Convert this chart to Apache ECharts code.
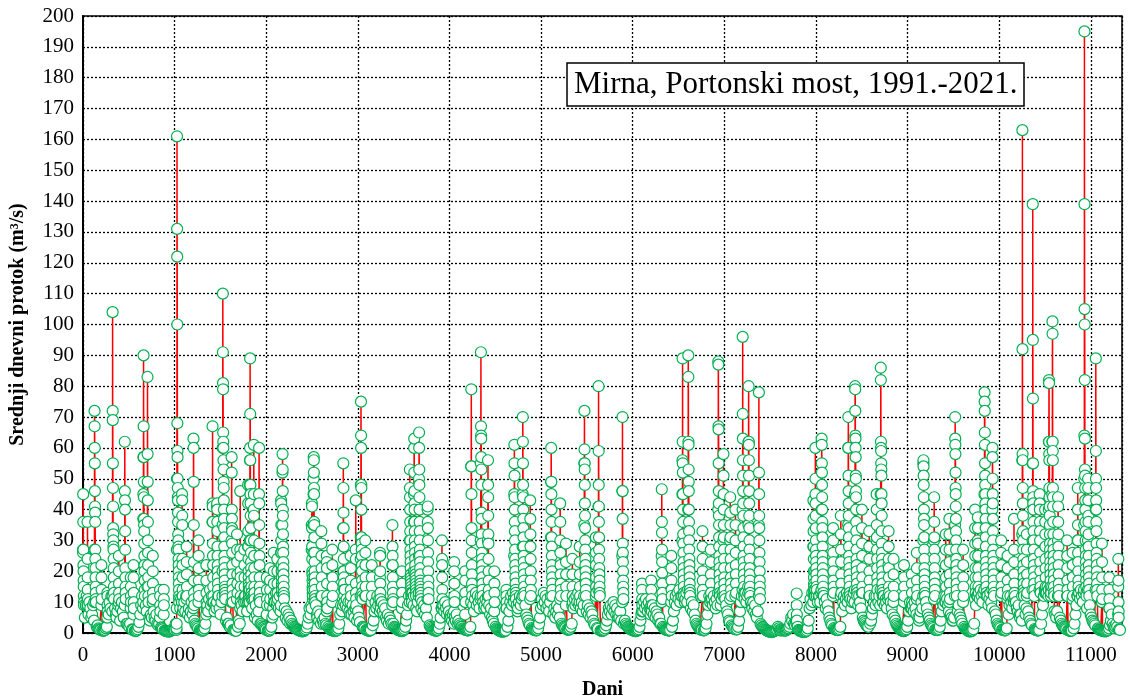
<!DOCTYPE html>
<html>
<head>
<meta charset="utf-8">
<script src="https://cdn.jsdelivr.net/npm/echarts@6/dist/echarts.min.js"></script>
<style>html,body{margin:0;padding:0;background:#fff;}#c{width:1130px;height:697px;}</style>
</head>
<body>
<div id="c"></div>
<script>
// ---- Axis ticks ----
const xTicks = [0,1000,2000,3000,4000,5000,6000,7000,8000,9000,10000,11000];
const yTicks = [0,10,20,30,40,50,60,70,80,90,100,110,120,130,140,150,160,170,180,190,200];

// ---- Baseline daily flow (m3/s), one row per year, one value per 10 days ----
const base1991_2000 = [
 [6,8,5,9,12,7,6,10,8,5,6,9,4,3,3,2,2.5,1.5,1.2,1,0.8,0.9,0.7,0.8,1,1.5,2,4,6,10,8,12,7,9,11,8,6],
 [5,7,9,6,4,8,10,7,5,4,6,3,3,2.5,2,3,1.8,1.2,1,0.8,0.7,0.6,0.8,1.2,2,3.5,6,9,12,8,10,14,9,7,8,6,5],
 [4,6,5,3,7,5,4,6,3,2.5,3,2,1.8,1.5,1.2,1,0.8,0.7,0.6,0.5,0.5,0.4,0.6,0.8,1,1.2,1,1,3,12,9,14,10,8,11,9,7],
 [8,10,7,12,9,6,8,5,7,10,6,4,4,3,2.5,2,1.5,1.2,1,0.9,0.8,0.7,1,1.5,3,6,9,7,11,14,9,12,8,10,7,9,8],
 [7,9,12,8,6,10,7,5,8,6,4,5,3,3,2,2.5,1.5,1.2,1,0.8,0.9,0.7,1,2,4,3,6,9,7,11,8,12,10,7,9,6,8],
 [9,6,8,11,7,5,9,6,4,7,5,3,3,2.5,2,1.8,1.4,1.1,0.9,0.8,0.7,0.8,1.2,2,5,8,6,10,13,9,11,8,12,7,10,8,6],
 [6,8,5,7,4,6,5,3,4,3,2.5,2,1.8,1.5,1.3,1.1,1,0.8,0.7,0.6,0.5,0.6,0.7,0.9,1.2,1.8,3,5,8,6,9,11,8,10,7,9,6],
 [5,7,4,6,3,5,4,3,5,3,2.5,2,2,1.5,1.2,1,0.9,0.8,0.7,0.6,0.7,0.8,1,1.5,3,6,9,7,12,10,14,9,11,8,10,7,6],
 [8,6,9,7,5,8,6,4,7,5,3.5,3,2.5,2,1.8,1.5,1.2,1,0.9,0.8,0.7,0.8,1,1.4,2.5,4,7,10,8,12,9,11,13,8,10,7,9],
 [6,8,5,4,6,3,5,4,3,2.5,3,2,1.8,1.5,1.2,1,0.9,0.8,0.7,0.6,0.7,0.9,1.3,2,4,6,9,12,10,14,11,13,9,12,10,8,7]
];
const base2001_2010 = [
 [10,12,9,11,8,10,7,9,6,8,5,4,3,2.5,2,1.6,1.3,1,0.9,0.8,0.7,0.8,1,1.5,3,5,8,6,9,7,10,8,6,9,7,5,6],
 [5,4,6,3,5,4,6,3,4,3,2.5,2,2,1.5,1.3,1.1,1,0.9,0.8,0.9,1.2,2,4,6,9,7,11,13,9,12,10,8,11,9,7,10,8],
 [9,11,8,10,7,9,6,8,5,4,3,2.5,2,1.5,1.2,1,0.8,0.6,0.5,0.4,0.4,0.5,0.6,0.8,1.2,2,4,7,10,12,9,13,11,8,10,9,7],
 [8,10,12,9,11,8,10,7,9,6,5,4,3,2.5,2,1.6,1.3,1.1,1,0.9,0.8,1,1.5,3,5,8,11,9,13,10,12,8,11,9,7,10,8],
 [7,9,6,8,5,7,9,6,8,5,4,3,2.5,2,1.8,1.5,1.3,1.2,1,1.1,1.4,2,3,5,8,11,9,12,10,13,9,11,8,10,7,9,6],
 [8,10,7,9,6,8,5,7,6,4,3,2.5,2,1.6,1.3,1.1,1,0.8,0.7,0.7,0.8,1,1.5,2.5,4,6,8,7,9,6,8,10,7,9,6,8,5],
 [6,5,7,4,6,5,3,4,3,2.5,2,1.8,1.5,1.3,1.1,1,0.9,0.7,0.6,0.6,0.7,0.9,1.2,2,4,6,9,7,10,8,11,9,7,10,8,6,7],
 [7,9,6,8,5,7,6,4,5,3,3,2.5,2,1.6,1.3,1.1,1,0.9,0.8,0.8,1,1.3,2,4,7,10,12,9,13,11,14,10,12,9,11,8,10],
 [11,13,10,12,9,11,8,10,7,9,6,4,3,2.5,2,1.6,1.3,1.1,1,0.9,0.8,1,1.5,3,6,9,12,10,13,11,9,12,10,8,11,9,12],
 [10,12,9,11,13,10,8,11,9,7,6,4,3.5,3,2.5,2,1.6,1.3,1.2,1.1,1.3,2,4,7,10,12,9,14,11,13,10,12,15,11,13,10,9]
];
const base2011_2021 = [
 [8,10,7,9,6,5,7,4,5,3,2.5,2,1.8,1.5,1.2,1,0.8,0.6,0.5,0.4,0.4,0.3,0.4,0.5,0.6,0.8,1,1.2,2,1.5,1,0.8,1.2,0.9,0.8,1,0.8],
 [0.8,1,1.2,1.5,2,3,5,4,6,3,2.5,4,3,2,1,0.8,0.6,0.5,0.4,0.4,0.3,0.4,0.5,0.8,1.5,4,8,11,9,13,10,12,9,11,14,10,12],
 [12,10,13,11,9,12,10,8,11,9,7,5,4,3,2.5,2,1.6,1.3,1.1,1,0.9,1,1.3,2,4,7,10,12,9,11,13,10,12,9,11,8,10],
 [11,13,10,12,14,11,9,12,10,8,7,5,4,3.5,3,2.5,2.2,2,2.5,3,4,6,8,10,12,9,11,13,10,12,9,11,13,10,12,9,11],
 [10,8,11,9,12,10,8,6,7,5,4,3,2.5,2,1.6,1.3,1,0.8,0.7,0.6,0.7,0.9,1.2,2,4,7,10,8,11,9,7,10,8,6,7,5,4],
 [5,7,10,8,11,9,12,10,8,6,5,4,3,2.5,2,1.6,1.3,1.1,1,0.9,1,1.3,2,4,7,10,9,12,10,13,11,9,7,8,6,5,4],
 [4,5,6,8,10,7,9,6,5,4,3,2.5,2,1.5,1.2,1,0.8,0.6,0.5,0.5,0.6,0.8,1.2,3,6,9,12,10,13,11,14,12,10,13,11,9,12],
 [10,12,9,11,13,10,8,11,9,7,6,4,3,2.5,2,1.6,1.3,1.1,1,0.9,0.8,1,1.5,3,6,9,12,10,8,11,9,12,10,8,7,9,6],
 [5,6,4,5,7,9,6,8,10,7,5,4,3,2.5,2,1.6,1.3,1,0.9,0.8,0.8,1,1.5,3,6,9,12,14,11,13,15,12,14,11,13,10,12],
 [9,7,6,5,7,4,6,5,4,3,2.5,2,1.8,1.5,1.2,1,0.9,0.8,0.7,0.7,0.8,1,1.5,3,6,9,12,10,13,11,14,12,10,13,11,9,10],
 [8,10,7,9,6,5,4,3.5,3,2.5,2,1.8,1.5,1.2,1,0.9,0.8,0.7,0.6,0.6,0.5,0.6,0.8,1,1.5,2.5,4,6,3,2,1.5,2,3,2,1.5,1.2,1]
];

// ---- Flood events: [first day, consecutive daily values] ----
const events1991_1995 = [
 [0,[27,26,45,36,27,22,20,17,15,12,10,9]],
 [48,[9,36,24,18,14,11,9]],
 [124,[10,27,72,67,60,55,46,41,39,36,27,24,21,18,15,13,11,10]],
 [200,[9,22,18,14,11]],
 [265,[5,13,12,9,7]],
 [322,[12,104,72,69,55,47,41,34,32,30,28,27,24,21,18,15,13,11]],
 [390,[10,25,20,16,13,11]],
 [455,[9,62,46,43,40,33,27,21,18,15,13,11]],
 [520,[8,18,15,12,10]],
 [550,[6,22,18,13,10,8]],
 [657,[10,37,45,57,90,67,57,49,44,37,35,33,29,25,22,20,17,14,12]],
 [703,[15,83,58,49,43,36,30,26,22,18,15,12,10]],
 [760,[10,25,20,16,13,11]],
 [840,[5,14,12,9,7]],
 [880,[6,14,11,9]],
 [1020,[1,1.5,3,8,27,50,161,131,122,100,68,59,57,50,47,44,43,39,36,32,30,28,27,24,22,20,18,16,14,12,11,10]],
 [1080,[10,45,43,38,35,24,22,18,14,12]],
 [1130,[11,28,23,19,15,12]],
 [1205,[8,63,60,49,35,23,17,13,11,9]],
 [1260,[10,30,25,21,17,14,12]],
 [1345,[6,22,17,13,10,8]],
 [1412,[10,36,67,42,41,36,29,25,22,18,15,12]],
 [1462,[10,41,42,40,36,33,28,25,22,20,18,16,14,12]],
 [1522,[12,20,35,60,110,91,81,79,65,62,60,56,53,49,47,43,40,37,34,31,28,25,23,21,19,17,15,14,13,12,11]],
 [1620,[10,30,57,52,40,37,34,33,29,26,22,19,16,14,12,10]],
 [1680,[11,32,27,23,19,16,13]],
 [1715,[8,46,27,25,20,18,15,12,10]],
 [1760,[10,27,22,18,15,12]],
 [1800,[10,28,48,42,33,28,24,20,18,16,15,14,13,12,12,11,11,10,10,14,30,48,56,60,89,71,56,48,45,42,38,34,30,26,23,21,19,17,15,13,12,11]]
];
const events1996_2002 = [
 [1862,[12,40,61,45,38,30,25,21,18,15,13,11]],
 [1920,[11,45,60,42,35,29,25,22,18,15,13,11,10]],
 [2005,[6,18,14,11,9]],
 [2040,[9,21,17,14,11]],
 [2080,[6,26,20,16,12,10]],
 [2120,[10,24,20,16,13]],
 [2160,[9,26,43,42,35,30,26,22,20,18,16,15,14,13,14,20,35,52,58,53,46,40,38,32,28,26,23,21,19,17,15,13,12,11]],
 [2495,[8,27,35,42,41,34,28,24,20,19,17,15,14,13,12,11,12,14,18,26,35,45,50,57,56,52,47,45,36,35,31,26,23,20,18,16,14,12,11,10]],
 [2600,[12,33,29,25,21,18,15,12]],
 [2660,[7,25,23,21,16,12,10,8]],
 [2720,[10,27,22,18,15,12]],
 [2838,[9,20,34,55,47,39,34,28,24,20,18,16,14,12,10]],
 [2920,[10,25,21,17,14,12]],
 [2975,[8,27,43,24,16,13,11,9]],
 [3030,[12,24,31,48,75,64,60,48,47,40,31,29,27,25,22,20,17,15,13,12,11]],
 [3080,[12,30,26,22,18,15,12]],
 [3150,[10,22,18,15,12]],
 [3240,[7,18,26,25,20,16,13,11,9]],
 [3375,[9,22,35,28,25,22,18,15,13,11,10]],
 [3480,[8,20,16,13,10]],
 [3565,[10,30,53,47,44,40,36,33,30,27,25,23,21,19,18,17,16,15,14,13,13,12,12,11,11,10]],
 [3610,[12,20,36,45,60,63,52,46,42,40,36,33,30,28,26,24,22,20,19,18,17,16,15,14,13,12]],
 [3665,[13,25,50,65,60,53,48,44,40,36,33,30,27,25,23,21,19,17,16,15,14,13,12,11]],
 [3760,[11,40,41,36,34,30,26,23,20,17,15,13,11]],
 [3917,[8,30,24,22,18,14,11,9]],
 [4050,[7,23,20,16,12,10]],
 [4170,[6,20,17,13,10]],
 [4236,[10,54,79,54,45,34,30,26,22,19,16,14,12]],
 [4340,[12,30,55,91,67,64,63,57,53,48,39,37,32,29,26,24,22,20,18,16,14,12]],
 [4418,[12,30,56,48,44,38,32,29,24,20,17,14,12]],
 [4488,[7,20,16,13,10]]
];
const events2003_2010 = [
 [4620,[8,14,12,10,8]],
 [4705,[10,25,45,61,55,51,44,40,36,33,30,27,24,22,20,18,16,14,13,12,11]],
 [4797,[12,28,45,70,62,55,48,44,40,37,34,31,28,25,23,21,19,17,15,13,12]],
 [4880,[11,43,37,32,28,24,20,17,14,12]],
 [5107,[12,31,49,60,49,45,40,36,31,28,25,22,20,18,16,14,12]],
 [5207,[11,42,36,30,26,22,19,16,14,12]],
 [5270,[9,29,23,19,15,12]],
 [5340,[9,24,19,15,12,10]],
 [5420,[10,28,23,19,15,12]],
 [5470,[12,35,55,72,59.5,55,53,48,42,38,34,30,27,24,22,20,18,16,14,12]],
 [5596,[12,31,26,22,18,15,13]],
 [5625,[14,41,80,59,48,41,36,31,27,24,21,19,17,15,13,12]],
 [5885,[10,25,46,70,46,37,29,26,23,20,17,15,13,11]],
 [6100,[7,16,14,11,9]],
 [6200,[8,17,14,11,9]],
 [6315,[10,25,46.6,36,32.5,27,23,19.5,16,13,11]],
 [6420,[10,25,21,17,14,12]],
 [6540,[12,30,45,56,89,62,55,52,45,40,36,32,29,26,23,21,19,17,15,13,12]],
 [6604,[14,40,90,83,62,61,53,49,46,40,36,33,30,27,24,22,20,18,16,14,13,12]],
 [6760,[12,33,28,24,20,17,14,12]],
 [6850,[11,27,23,19,16,13]],
 [6932,[13,40,88,87,67,66,55,46,42,38,35,31,28,25,23,21,19,17,15,13,12]],
 [6988,[12,30,58,51,45,40,35,31,27,24,21,18,16,14,12]],
 [7062,[11,30,44,39,35,31,27,24,21,18,16,14,12]],
 [7120,[12,40,35,30,26,22,19,16,13]],
 [7198,[14,40,96,71,63,56,51,46,42,38,34,31,28,25,23,21,19,17,15,13,12]],
 [7262,[13,35,62,80,62,61,56,51,46,42,38,34,30,27,24,21,19,17,15,13,12]],
 [7375,[12,35,78,52,45,38,34,30,26,23,20,17,15,13,11]]
];
const events2011_2016 = [
 [7788,[3,12.8,9,6,4]],
 [7970,[10,28,43,37,33,28,24,20,18,16,15,14,13,13,12,12,12,12,12,12,12,14,20,60,50,45,42,38,34,30,27,25,23,21,19,17,15,13,12]],
 [8060,[14,40,63,61,55,52,48,44,40,36,34,31,28,25,23,21,19,17,15,13,12]],
 [8185,[12,25,34,30,26,23,20,17,15,13]],
 [8270,[12,38,32,27,23,19,16,13]],
 [8350,[12,35,60,70,60,51,46,42,38,34,31,28,25,23,21,19,17,15,13,12]],
 [8425,[14,45,80,79,72,64,63,60,57,51,50,46,44,40,36,33,30,27,24,22,20,18,16,14,13,12]],
 [8500,[13,40,34,29,25,21,18,15,13]],
 [8580,[12,33,28,24,20,17,14,12]],
 [8660,[12,30,45,40,35,31,27,24,21,18,16,14]],
 [8705,[14,45,86,82,62,60,59,55,53,51,45,42,38,33,29,26,24,22,20,18,16,14,13,12]],
 [8790,[12,22,33,28,24,21,18,15,13]],
 [8845,[10,24,19,15,12]],
 [8960,[10,22,18,15,12]],
 [9045,[8,19,16,13,10]],
 [9100,[11,26,21,17,14,12]],
 [9170,[12,30,55,56,54,51,48,44,40,37,35,31,27,24,21,19,17,15,13,12]],
 [9288,[11,30,44,36,31,27,24,21,18,16,14,12]]
];
const events2017_2021 = [
 [9415,[10,32,27,22,18,15,12]],
 [9455,[10,37,32,27,23,19,16,13,11]],
 [9517,[12,35,70,63,61,58,52,47,45,41,37,33,30,27,24,22,20,18,16,14,12]],
 [9605,[10,27,22,18,15,12]],
 [9735,[11,40,34,29,25,21,18,15,13]],
 [9765,[12,30,37.5,34,29,25,21,18,15,13]],
 [9838,[14,45,78,75,72,65,61,55,51,48,45,42,40,37,34,31,28,25,23,21,19,17,15,13,12]],
 [9924,[14,40,60,57,50,45,42,37,33,30,27,25,23,21,19,17,15,13,12]],
 [10020,[12,30,26,22,18,15,13]],
 [10090,[11,25,21,17,14,12]],
 [10160,[10,37,27,23,19,16,13,11]],
 [10250,[12,32,56,163,92,58,56,47,42,38,33,30,27,24,22,20,18,16,14,13,12]],
 [10300,[12,32,27,23,19,16,13]],
 [10363,[14,30,55,139,95,76,55,46,44,42,40,36,33,30,27,24,22,20,18,16,14,12]],
 [10440,[14,45,42,40,36,33,30,26,23,20,17,15,13]],
 [10500,[13,40,36,32,28,24,21,18,15,13]],
 [10540,[14,40,62,82,81,62,58,56,47,44,41,38,35,32,29,27,25,23,21,19,17,15,13,12]],
 [10578,[15,45,62,101,97,62,59,56,47,44,41,36,32,29,27,25,23,21,19,17,15,13,12]],
 [10640,[12,30,44,41,36,32,28,25,22,19,16,14,12]],
 [10740,[12,30,25,21,17,14,12]],
 [10800,[11,26,22,18,15,12]],
 [10855,[12,30,47,40,35,30,26,23,20,17,15,13]],
 [10926,[14,35,50,64,195,139,105,100,82,63,53,51,47,43,40,36,33,30,27,25,23,21,19,17,15,13,12]],
 [10968,[14,30,50,47,43,38,36,32,28,25,22,20,18,16,14,12]],
 [11052,[14,40,89,59,50,47,43,40,36,33,29,26,24,22,20,18,16,14,12]],
 [11120,[10,29,23,18,14,11]],
 [11200,[8,18,14,11,8]],
 [11298,[6,15,24,17,10,7,5]]
];

const LAST_DAY = 11322;
const allBase = [].concat(base1991_2000, base2001_2010, base2011_2021);
const allEvents = [].concat(events1991_1995, events1996_2002, events2003_2010, events2011_2016, events2017_2021);
const windows = allEvents.map(function (e) { return [e[0], e[0] + e[1].length - 1]; });
const points = [];
allBase.forEach(function (row, yi) {
  const y0 = Math.round(365.25 * yi);
  row.forEach(function (v, k) {
    const d = y0 + 10 * k;
    if (d > LAST_DAY) return;
    for (let i = 0; i < windows.length; i++) {
      if (d >= windows[i][0] - 1 && d <= windows[i][1] + 1) return;
    }
    points.push([d, v]);
  });
});
allEvents.forEach(function (e) {
  e[1].forEach(function (v, k) { points.push([e[0] + k, v]); });
});
points.sort(function (a, b) { return a[0] - b[0]; });

const FONT = '"Liberation Serif", "Times New Roman", serif';
const chart = echarts.init(document.getElementById('c'), null, {renderer: 'canvas'});
chart.setOption({
  animation: false,
  backgroundColor: '#fff',
  title: {
    text: 'Mirna, Portonski most, 1991.-2021.',
    left: 567, top: 63,
    padding: [5, 7, 4, 7],
    borderColor: '#000', borderWidth: 1.5,
    backgroundColor: '#fff',
    textStyle: {fontFamily: FONT, fontSize: 31, fontWeight: 'normal', color: '#000', lineHeight: 34}
  },
  grid: {left: 83, right: 8, top: 16, bottom: 64, containLabel: false, outerBoundsMode: 'none',
    show: true, borderColor: '#000', borderWidth: 1.5, backgroundColor: 'transparent'},
  xAxis: {
    type: 'value', min: 0, max: 11340, interval: 1000,
    name: 'Dani', nameLocation: 'middle', nameGap: 47,
    nameTextStyle: {fontFamily: FONT, fontSize: 20, fontWeight: 'bold', color: '#000'},
    axisLine: {show: true, lineStyle: {color: '#000', width: 2}},
    axisTick: {show: false},
    axisLabel: {fontFamily: FONT, fontSize: 21, color: '#000', margin: 12, showMaxLabel: false,
      formatter: function (v) { return xTicks.indexOf(v) >= 0 ? String(v) : ''; }},
    splitLine: {show: true, lineStyle: {color: '#000', width: 1.3, type: [2, 2]}}
  },
  yAxis: {
    type: 'value', min: 0, max: 200, interval: 10,
    name: 'Srednji dnevni protok (m\u00B3/s)', nameLocation: 'middle', nameGap: 55,
    nameTextStyle: {fontFamily: FONT, fontSize: 20, fontWeight: 'bold', color: '#000'},
    axisLine: {show: true, lineStyle: {color: '#000', width: 2}},
    axisTick: {show: false},
    axisLabel: {fontFamily: FONT, fontSize: 21, color: '#000', margin: 9,
      formatter: function (v) { return yTicks.indexOf(v) >= 0 ? String(v) : ''; }},
    splitLine: {show: true, lineStyle: {color: '#000', width: 1.3, type: [2, 2]}}
  },
  series: [{
    type: 'line',
    data: points,
    showSymbol: true,
    showAllSymbol: true,
    symbol: 'circle',
    symbolSize: 11,
    lineStyle: {color: '#FF0000', width: 1.5},
    itemStyle: {color: '#fff', borderColor: '#00B050', borderWidth: 1.2},
    emphasis: {disabled: true},
    z: 3
  }]
});
</script>
</body>
</html>
